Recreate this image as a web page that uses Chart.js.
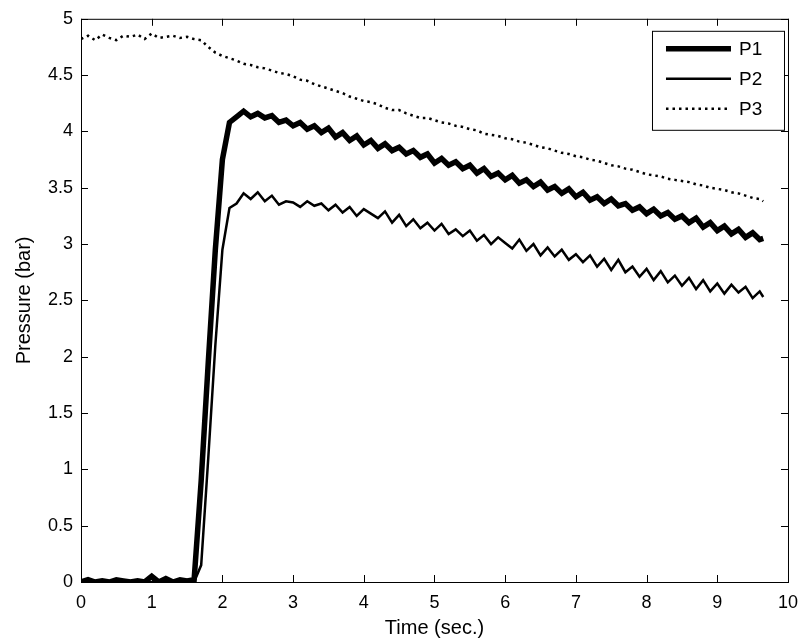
<!DOCTYPE html>
<html>
<head>
<meta charset="utf-8">
<script src="https://cdn.jsdelivr.net/npm/chart.js@4/dist/chart.umd.min.js"></script>
<style>
  html, body { margin: 0; padding: 0; background: #fff; }
  canvas { display: block; }
</style>
</head>
<body>
<canvas id="chart" width="808" height="644"></canvas>
<script>
// sample times (sec.)
const times = [
  0.0, 0.1, 0.2, 0.3, 0.4, 0.5, 0.6, 0.7, 0.8, 0.9,
  1.0, 1.1, 1.2, 1.3, 1.4, 1.5, 1.6, 1.7, 1.8, 1.9,
  2.0, 2.1, 2.2, 2.3, 2.4, 2.5, 2.6, 2.7, 2.8, 2.9,
  3.0, 3.1, 3.2, 3.3, 3.4, 3.5, 3.6, 3.7, 3.8, 3.9,
  4.0, 4.1, 4.2, 4.3, 4.4, 4.5, 4.6, 4.7, 4.8, 4.9,
  5.0, 5.1, 5.2, 5.3, 5.4, 5.5, 5.6, 5.7, 5.8, 5.9,
  6.0, 6.1, 6.2, 6.3, 6.4, 6.5, 6.6, 6.7, 6.8, 6.9,
  7.0, 7.1, 7.2, 7.3, 7.4, 7.5, 7.6, 7.7, 7.8, 7.9,
  8.0, 8.1, 8.2, 8.3, 8.4, 8.5, 8.6, 8.7, 8.8, 8.9,
  9.0, 9.1, 9.2, 9.3, 9.4, 9.5, 9.6, 9.65
];

const p1 = [
  0, 0.02, 0, 0.01, 0, 0.02, 0.01, 0, 0.01, 0,
  0.05, 0, 0.03, 0, 0.02, 0.01, 0.02, 0.9, 1.95, 2.95,
  3.75, 4.08, 4.13, 4.18, 4.13, 4.16, 4.12, 4.14, 4.08, 4.10,
  4.05, 4.08, 4.02, 4.05, 3.99, 4.03, 3.95, 3.99, 3.92, 3.96,
  3.88, 3.92, 3.85, 3.89, 3.83, 3.86, 3.80, 3.83, 3.77, 3.80,
  3.72, 3.76, 3.70, 3.73, 3.67, 3.70, 3.63, 3.67, 3.60, 3.63,
  3.57, 3.61, 3.54, 3.57, 3.51, 3.55, 3.48, 3.51, 3.45, 3.49,
  3.42, 3.46, 3.39, 3.42, 3.36, 3.40, 3.34, 3.36, 3.30, 3.33,
  3.27, 3.31, 3.25, 3.28, 3.22, 3.25, 3.19, 3.23, 3.15, 3.19,
  3.12, 3.16, 3.09, 3.13, 3.06, 3.10, 3.04, 3.05
];

const p2 = [
  0, 0, 0, 0, 0, 0, 0, 0, 0, 0,
  0, 0, 0, 0, 0, 0, 0, 0.15, 1.1, 2.1,
  2.95, 3.32, 3.36, 3.45, 3.40, 3.46, 3.38, 3.43, 3.35, 3.38,
  3.37, 3.33, 3.38, 3.34, 3.36, 3.30, 3.35, 3.28, 3.33, 3.25,
  3.31, 3.27, 3.23, 3.29, 3.19, 3.26, 3.16, 3.22, 3.14, 3.19,
  3.12, 3.18, 3.09, 3.13, 3.07, 3.12, 3.03, 3.08, 3.00, 3.06,
  3.01, 2.96, 3.04, 2.94, 3.00, 2.90, 2.97, 2.89, 2.95, 2.86,
  2.91, 2.84, 2.90, 2.80, 2.87, 2.77, 2.86, 2.75, 2.80, 2.71,
  2.78, 2.68, 2.76, 2.66, 2.72, 2.63, 2.70, 2.60, 2.68, 2.58,
  2.65, 2.56, 2.64, 2.57, 2.62, 2.52, 2.58, 2.53
];

const p3 = [
  4.82, 4.85, 4.81, 4.86, 4.83, 4.81, 4.85, 4.84, 4.86, 4.82,
  4.87, 4.83, 4.84, 4.85, 4.83, 4.84, 4.82, 4.81, 4.75, 4.70,
  4.67, 4.65, 4.63, 4.60, 4.59, 4.57, 4.56, 4.54, 4.52, 4.51,
  4.49, 4.46, 4.45, 4.42, 4.40, 4.38, 4.36, 4.34, 4.31, 4.29,
  4.27, 4.26, 4.24, 4.21, 4.19, 4.19, 4.16, 4.14, 4.12, 4.12,
  4.10, 4.08, 4.07, 4.05, 4.04, 4.02, 4.01, 3.98, 3.97, 3.96,
  3.94, 3.93, 3.91, 3.90, 3.88, 3.86, 3.85, 3.83, 3.81, 3.80,
  3.78, 3.77, 3.75, 3.74, 3.72, 3.70, 3.69, 3.67, 3.66, 3.64,
  3.62, 3.61, 3.60, 3.58, 3.57, 3.56, 3.55, 3.53, 3.52, 3.50,
  3.49, 3.48, 3.46, 3.45, 3.43, 3.41, 3.40, 3.38
];

const seriesNames = ["P1", "P2", "P3"];
const xTicks = [0, 1, 2, 3, 4, 5, 6, 7, 8, 9, 10];
const yTicks = [0, 0.5, 1, 1.5, 2, 2.5, 3, 3.5, 4, 4.5, 5];

const FONT = '"Liberation Sans", Arial, sans-serif';

const toPoints = (ys) => times.map((t, i) => ({ x: t, y: ys[i] }));

// matlab-style box with inward ticks on all four sides
const boxPlugin = {
    id: "box",
    afterDraw(chart) {
        const { ctx, chartArea: a, scales } = chart;
        const tl = 7;
        ctx.save();
        ctx.strokeStyle = "#000";
        ctx.lineWidth = 1;
        ctx.strokeRect(a.left + 0.5, a.top + 0.5, a.right - a.left, a.bottom - a.top);
        ctx.beginPath();
        xTicks.forEach((v) => {
            const px = Math.round(scales.x.getPixelForValue(v)) + 0.5;
            ctx.moveTo(px, a.bottom); ctx.lineTo(px, a.bottom - tl);
            ctx.moveTo(px, a.top); ctx.lineTo(px, a.top + tl);
        });
        yTicks.forEach((v) => {
            const py = Math.round(scales.y.getPixelForValue(v)) + 0.5;
            ctx.moveTo(a.left, py); ctx.lineTo(a.left + tl, py);
            ctx.moveTo(a.right, py); ctx.lineTo(a.right - tl, py);
        });
        ctx.stroke();

        // legend box
        const bx = a.right - 136, by = a.top + 12, bw = 132, bh = 99;
        ctx.fillStyle = "#fff";
        ctx.fillRect(bx, by, bw, bh);
        ctx.strokeRect(bx + 0.5, by + 0.5, bw, bh);
        ctx.font = "19px " + FONT;
        ctx.textBaseline = "middle";
        ctx.fillStyle = "#000";
        chart.data.datasets.forEach((ds, i) => {
            const y = by + 18 + i * 30;
            ctx.save();
            ctx.lineWidth = ds.borderWidth;
            ctx.setLineDash(ds.borderDash || []);
            ctx.beginPath();
            ctx.moveTo(bx + 14, y);
            ctx.lineTo(bx + 79, y);
            ctx.stroke();
            ctx.restore();
            ctx.fillText(ds.label, bx + 87, y + 1);
        });
        ctx.restore();
    }
};

new Chart(document.getElementById("chart"), {
    type: "line",
    data: {
        datasets: [
            {
                label: seriesNames[0],
                data: toPoints(p1),
                borderColor: "#000",
                borderWidth: 5.5,
                pointRadius: 0,
                tension: 0
            },
            {
                label: seriesNames[1],
                data: toPoints(p2),
                borderColor: "#000",
                borderWidth: 2.5,
                pointRadius: 0,
                tension: 0
            },
            {
                label: seriesNames[2],
                data: toPoints(p3),
                borderColor: "#000",
                borderWidth: 2.5,
                borderDash: [2.5, 4],
                pointRadius: 0,
                tension: 0
            }
        ]
    },
    options: {
        responsive: false,
        animation: false,
        devicePixelRatio: 1,
        layout: { padding: { top: 17, right: 14, left: 0, bottom: 0 } },
        plugins: {
            legend: { display: false },
            tooltip: { enabled: false }
        },
        scales: {
            x: {
                type: "linear",
                min: 0,
                max: 10,
                afterFit: (s) => { s.height = 62; },
                afterBuildTicks: (s) => { s.ticks = xTicks.map((v) => ({ value: v })); },
                grid: { display: false, drawTicks: false },
                border: { display: false },
                ticks: {
                    padding: 10,
                    color: "#000",
                    font: { family: FONT, size: 18 },
                    maxRotation: 0,
                    callback: (v) => String(v)
                },
                title: {
                    display: true,
                    text: "Time (sec.)",
                    color: "#000",
                    font: { family: FONT, size: 20 },
                    padding: { top: 0, bottom: 4 }
                }
            },
            y: {
                type: "linear",
                min: 0,
                max: 5,
                afterFit: (s) => { s.width = 81; },
                afterBuildTicks: (s) => { s.ticks = yTicks.map((v) => ({ value: v })); },
                grid: { display: false, drawTicks: false },
                border: { display: false },
                ticks: {
                    padding: 8,
                    color: "#000",
                    font: { family: FONT, size: 18 },
                    callback: (v) => String(v)
                },
                title: {
                    display: true,
                    text: "Pressure (bar)",
                    color: "#000",
                    font: { family: FONT, size: 20 },
                    padding: { top: 12, bottom: 0 }
                }
            }
        }
    },
    plugins: [boxPlugin]
});
</script>
</body>
</html>
